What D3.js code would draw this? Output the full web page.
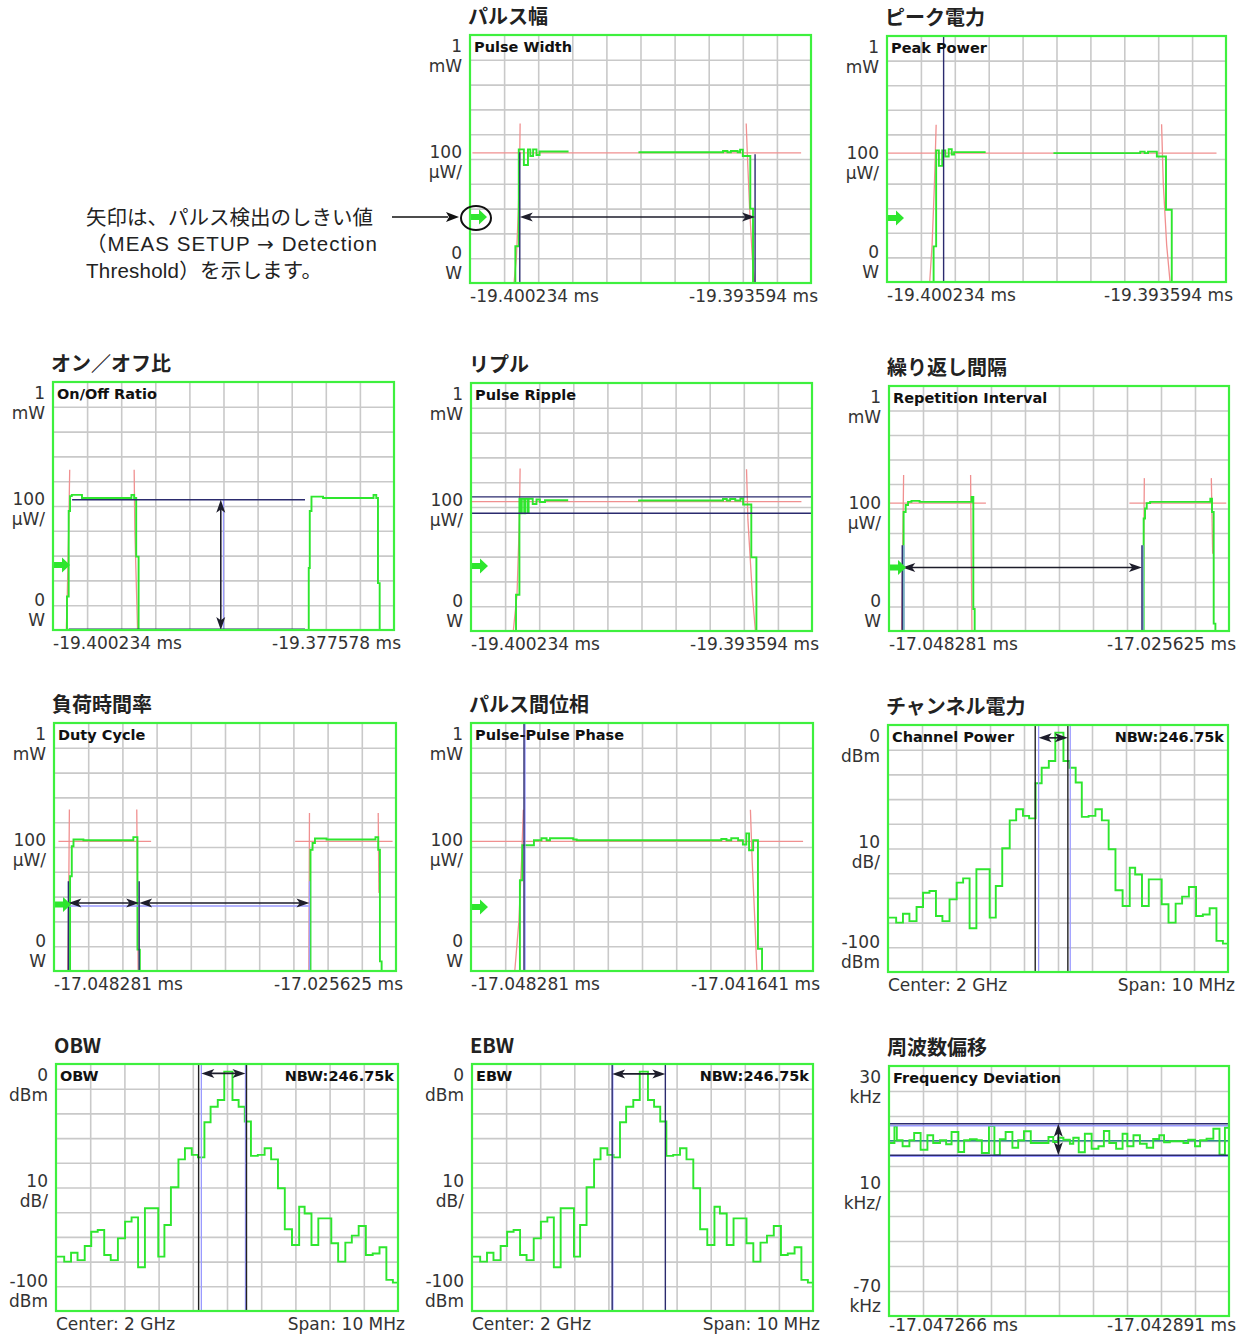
<!DOCTYPE html>
<html><head><meta charset="utf-8">
<script src="https://cdn.jsdelivr.net/npm/d3@7"></script>
<style>body{margin:0;background:#fff}svg{display:block}</style>
</head><body>
<svg id="c" width="1242" height="1336"></svg>
<script>
// ---------------- DATA ----------------
const panelTitles = ["パルス幅","ピーク電力","オン／オフ比","リプル","繰り返し間隔","負荷時間率","パルス間位相","チャンネル電力","OBW","EBW","周波数偏移"];
const panelLabels = ["Pulse Width","Peak Power","On/Off Ratio","Pulse Ripple","Repetition Interval","Duty Cycle","Pulse-Pulse Phase","Channel Power","OBW","EBW","Frequency Deviation"];
const xStartLabels = ["-19.400234 ms","-19.400234 ms","-19.400234 ms","-19.400234 ms","-17.048281 ms","-17.048281 ms","-17.048281 ms","Center: 2 GHz","Center: 2 GHz","Center: 2 GHz","-17.047266 ms"];
const xEndLabels = ["-19.393594 ms","-19.393594 ms","-19.377578 ms","-19.393594 ms","-17.025625 ms","-17.025625 ms","-17.041641 ms","Span: 10 MHz","Span: 10 MHz","Span: 10 MHz","-17.042891 ms"];
const powerTicks = [["1","mW"],["100","μW/"],["0","W"]];
const spectrumTicks = [["0","dBm"],["10","dB/"],["-100","dBm"]];
const fmTicks = [["30","kHz"],["10","kHz/"],["-70","kHz"]];
const nbwLabel = "NBW:246.75k";
const noteLines = [["矢印は、パルス検出のしきい値"],["（MEAS SETUP ","→"," Detection"],["Threshold）を示します。"]];

// time traces: x in divisions (0-10), power in μW
const pwGreen = [[0,0],[1.33,148],[1.43,539],[1.58,476],[1.70,539],[1.77,512],[1.85,539],[1.95,516],[2.04,530],[2.89,530],[2.89,null],[4.94,527],[7.42,532],[7.55,527],[7.65,532],[7.85,527],[7.92,538],[8.0,512],[8.22,300],[8.30,0],[10,0]];
const pwRed = [[[0.07,525],[9.71,525]],[[1.47,643],[1.46,530],[1.42,300],[1.36,100],[1.29,0]],[[8.10,643],[8.13,530],[8.20,300],[8.28,100],[8.35,0]]];
const pwMarkers = [[[1.46,0],[1.46,527]],[[8.36,0],[8.36,519]],[[1.46,0],[8.36,0]]];
const pwArrows = [[[1.46,266],[8.36,266]]];
const pwThreshold = 266;

const pkGreen = [[0,0],[1.375,145],[1.45,535],[1.53,472],[1.63,535],[1.72,510],[1.82,540],[1.91,518],[1.98,528],[2.91,528],[2.91,null],[4.91,524],[7.47,530],[7.6,524],[7.7,530],[7.96,510],[8.23,294],[8.40,0],[10,0]];
const pkRed = [[[0,524],[9.72,524]],[[1.45,639],[1.40,400],[1.33,150],[1.26,0]],[[8.10,641],[8.15,400],[8.25,150],[8.35,0]]];
const pkMarkers = [[[1.67,0],[1.67,1000]],[[1.67,0],[8.40,0]]];
const pkThreshold = 260;

const ooGreen = [[0,0],[0.41,135],[0.46,480],[0.50,540],[0.55,545],[0.85,532],[2.25,532],[2.30,545],[2.38,532],[2.44,296],[2.51,0],[7.48,0],[7.50,250],[7.53,480],[7.58,538],[7.92,532],[9.35,532],[9.40,545],[9.48,532],[9.53,189],[9.58,0],[10,0]];
const ooRed = [[[0.49,646],[0.46,400],[0.42,150],[0.39,0]],[[2.38,646],[2.40,400],[2.45,150],[2.48,0]]];
const ooMarkers = [[[0.56,525],[7.39,525]],[[0.46,3],[7.39,3]]];
const ooLight = [[[5.0,525],[5.0,0]]];
const ooArrows = [[[4.92,525],[4.92,0]]];
const ooThreshold = 262;

const rpGreen = [[0,0],[1.32,146],[1.42,533],[1.46,475],[1.49,533],[1.56,475],[1.59,533],[1.66,478],[1.69,533],[1.81,512],[1.92,530],[2.02,520],[2.17,527],[2.85,527],[2.85,null],[4.90,526],[7.39,532],[7.5,526],[7.6,532],[7.75,526],[7.9,534],[7.98,510],[8.22,297],[8.37,0],[10,0]];
const rpRed = [[[0,522],[9.69,522]],[[1.44,655],[1.42,450],[1.35,150],[1.24,0]],[[8.08,652],[8.12,450],[8.25,150],[8.34,0]]];
const rpMarkers = [[[0,541],[10,541]],[[0,475],[10,475]],[[1.30,0],[8.37,0]]];
const rpThreshold = 262;

const riGreen = [[0,0],[0.43,486],[0.49,514],[0.56,527],[0.66,531],[0.90,527],[2.38,527],[2.43,547],[2.48,90],[2.52,0],[7.48,0],[7.49,459],[7.53,500],[7.58,522],[7.68,527],[7.93,527],[9.45,540],[9.50,486],[9.55,30],[9.60,0],[10,0]];
const riRed = [[[0.02,522],[2.85,522]],[[7.07,522],[9.92,522]],[[0.43,637],[0.40,300],[0.37,0]],[[2.40,637],[2.42,300],[2.44,0]],[[7.51,624],[7.49,300],[7.47,0]],[[9.48,624],[9.52,315]]];
const riMarkers = [[[0.39,350],[0.39,0]],[[7.44,350],[7.44,0]],[[0.39,0],[7.44,0]]];
const riLight = [[[0.44,0],[0.44,350]],[[7.47,0],[7.47,350]]];
const riArrows = [[[0.39,259],[7.44,259]]];
const riThreshold = 259;

const dcGreen = [[0,0],[0.47,382],[0.52,503],[0.57,530],[0.86,527],[2.32,540],[2.44,86],[2.51,0],[7.47,0],[7.50,489],[7.56,516],[7.63,534],[7.97,530],[9.40,540],[9.48,489],[9.53,39],[9.58,0],[10,0]];
const dcRed = [[[0.13,523],[2.84,523]],[[7.05,523],[9.90,523]],[[0.45,651],[0.43,300],[0.40,0]],[[2.42,651],[2.44,300],[2.46,0]],[[7.47,637],[7.46,300],[7.45,0]],[[9.48,637],[9.50,315]]];
const dcMarkers = [[[0.42,362],[0.42,0]],[[2.49,362],[2.49,0]],[[0.42,0],[7.47,0]]];
const dcLight = [[[7.47,362],[7.47,0]],[[0.45,262],[7.45,262]]];
const dcArrows = [[[0.42,274],[2.49,274]],[[2.49,274],[7.47,274]]];
const dcThreshold = 268;

const ppGreen = [[0,0],[1.43,366],[1.50,507],[1.84,527],[2.06,535],[2.21,527],[2.31,535],[2.99,530],[3.09,527],[7.32,532],[7.47,527],[7.61,535],[7.81,527],[7.95,510],[8.05,555],[8.13,487],[8.25,527],[8.39,90],[8.51,0],[10,0]];
const ppRed = [[[0,523],[9.71,523]],[[1.53,650],[1.48,450],[1.40,200],[1.28,0]],[[8.17,650],[8.22,450],[8.30,200],[8.36,0]]];
const ppMarkers = [[[1.55,0],[1.55,1000]],[[1.55,0],[8.51,0]]];
const ppLight = [[[1.58,0],[1.58,1000]]];
const ppThreshold = 258;

// spectrum: bin start frequencies (MHz from center) and levels (dBm)
const specEdges = [-5,-4.76,-4.56,-4.37,-4.16,-3.97,-3.78,-3.59,-3.40,-3.19,-2.98,-2.79,-2.60,-2.40,-2.01,-1.83,-1.64,-1.42,-1.23,-1.03,-0.85,-0.66,-0.48,-0.27,-0.08,0.16,0.34,0.52,0.70,0.90,1.10,1.29,1.49,1.69,1.90,2.11,2.27,2.47,2.67,3.05,3.25,3.46,3.65,3.85,4.06,4.26,4.46,4.66,4.85];
const specLevels = [-78.0,-80.0,-76.4,-79.4,-73.7,-67.9,-67.2,-77.3,-79.4,-70.6,-63.8,-62.1,-82.3,-58.4,-78.0,-65.2,-49.9,-38.6,-34.1,-36.8,-37.8,-23.6,-17.3,-14.6,-3.1,-14.6,-17.3,-23.3,-37.2,-36.8,-34.1,-38.6,-50.3,-66.9,-73.3,-57.8,-60.5,-73.3,-62.5,-72.6,-80.0,-72.3,-69.5,-65.6,-77.3,-76.7,-74.2,-87.4,-88.5];
const cpMarkers = [[[-0.67,-100],[-0.67,0]],[[0.29,-100],[0.29,0]]];
const cpLight = [[[-0.57,-100],[-0.57,0]],[[0.36,-100],[0.36,0]]];
const cpArrows = [[[-0.57,-5.2],[0.29,-5.2]]];
const obwMarkers = [[[-0.83,-100],[-0.83,0]],[[0.57,-100],[0.57,0]]];
const obwLight = [[[-0.75,-100],[-0.75,0]],[[0.54,-100],[0.54,0]]];
const obwArrows = [[[-0.75,-3.8],[0.54,-3.8]]];
const ebwMarkers = [[[-0.89,-100],[-0.89,0]],[[0.67,-100],[0.67,0]]];
const ebwLight = [[[-0.87,-100],[-0.87,0]]];
const ebwArrows = [[[-0.89,-4],[0.67,-4]]];

// frequency deviation: x in divisions, kHz
const fdSteps = [[0,-0.8],[0.16,5.9],[0.23,0.3],[0.40,-2.1],[0.60,0.3],[0.74,3.2],[0.93,-3.5],[1.13,2.3],[1.30,-0.8],[1.50,0.3],[1.68,-1.3],[1.84,3.6],[2.04,-4.4],[2.21,0.3],[2.38,0.7],[2.58,0.3],[2.73,-4.8],[2.94,6.0],[3.10,-5.7],[3.26,0.7],[3.43,3.6],[3.63,-2.7],[3.80,0.3],[3.97,3.9],[4.17,-0.8],[4.69,1.6],[4.83,-0.4],[4.98,1.3],[5.13,0.5],[5.32,-1.1],[5.42,1.3],[5.58,-4.5],[5.76,2.9],[5.96,-3.1],[6.16,-2.1],[6.32,4.0],[6.48,-0.8],[6.68,-3.1],[6.87,2.9],[7.01,-2.1],[7.19,2.3],[7.38,-1.1],[7.58,-2.7],[7.77,0.8],[7.95,2.3],[8.09,-0.5],[8.26,-0.1],[8.46,-0.1],[8.66,-0.8],[8.80,0.5],[9.00,-2.1],[9.15,0.3],[9.34,0.9],[9.54,4.9],[9.72,-5.5],[9.88,5.3],[10,5.3]];
const fdMarkers = [[[0,6.9],[10,6.9]],[[0,-5.7],[10,-5.7]]];
const fdLight = [[[0,6.1],[10,6.1]],[[0,-6.1],[10,-6.1]]];
const fdCenter = [[[0,0.1],[10,0.1]]];
const fdArrows = [[[4.98,6.9],[4.98,-5.7]]];

// ---------------- LAYOUT ----------------
const boxes = [
  {L:470,T:35,W:341,H:248},{L:887,T:36,W:339,H:246},
  {L:53,T:382,W:341,H:248},{L:471,T:383,W:341,H:248},{L:889,T:386,W:340,H:245},
  {L:54,T:723,W:342,H:248},{L:471,T:723,W:342,H:248},{L:888,T:725,W:340,H:247},
  {L:56,T:1064,W:342,H:247},{L:472,T:1064,W:341,H:247},{L:889,T:1066,W:340,H:250}
];
const specSeries = specEdges.map((e,i)=>[e,specLevels[i]]).concat([[5,specLevels[specLevels.length-1]]]);
const P = [0,1000], S = [-100,0], F = [-70,30], D = [0,10], M = [-5,5];
const cfgs = [
  {xd:D,yd:P,ticks:powerTicks,green:pwGreen,red:pwRed,markers:pwMarkers,arrows:pwArrows,thr:pwThreshold},
  {xd:D,yd:P,ticks:powerTicks,green:pkGreen,red:pkRed,markers:pkMarkers,thr:pkThreshold},
  {xd:D,yd:P,ticks:powerTicks,green:ooGreen,red:ooRed,markers:ooMarkers,light:ooLight,arrows:ooArrows,thr:ooThreshold},
  {xd:D,yd:P,ticks:powerTicks,green:rpGreen,red:rpRed,markers:rpMarkers,thr:rpThreshold},
  {xd:D,yd:P,ticks:powerTicks,green:riGreen,red:riRed,markers:riMarkers,light:riLight,arrows:riArrows,thr:riThreshold},
  {xd:D,yd:P,ticks:powerTicks,green:dcGreen,red:dcRed,markers:dcMarkers,light:dcLight,arrows:dcArrows,thr:dcThreshold},
  {xd:D,yd:P,ticks:powerTicks,green:ppGreen,red:ppRed,markers:ppMarkers,light:ppLight,thr:ppThreshold},
  {xd:M,yd:S,ticks:spectrumTicks,green:specSeries,markers:cpMarkers,light:cpLight,arrows:cpArrows,nbw:true,black:true},
  {xd:M,yd:S,ticks:spectrumTicks,green:specSeries,markers:obwMarkers,light:obwLight,arrows:obwArrows,nbw:true,black:true},
  {xd:M,yd:S,ticks:spectrumTicks,green:specSeries,markers:ebwMarkers,light:ebwLight,arrows:ebwArrows,nbw:true},
  {xd:D,yd:F,ticks:fmTicks,green:fdSteps,markers:fdMarkers,light:fdLight,center:fdCenter,arrows:fdArrows,xlOff:15}
];

const C = {green:"#2ee62e",border:"#3ef03e",grid:"#c9c9c9",red:"#f09090",navy:"#2b2b6e",light:"#9a9aff",arrow:"#1d1d2b",text:"#333"};
const svg = d3.select("#c");
const TF = "'DejaVu Sans', sans-serif";
const JF = "'Noto Sans CJK JP', sans-serif";
const NF = "'Liberation Sans', 'Noto Sans CJK JP', sans-serif";

function dblArrow(g, x1, y1, x2, y2) {
  const dx = x2-x1, dy = y2-y1, len = Math.hypot(dx,dy), ux = dx/len, uy = dy/len;
  const hl = 13, hw = 4.5;
  g.append("line").attr("x1",x1+ux*5).attr("y1",y1+uy*5).attr("x2",x2-ux*5).attr("y2",y2-uy*5)
    .attr("stroke",C.arrow).attr("stroke-width",1.6);
  const head = (px,py,a,b) => {
    const bx = px - a*hl, by = py - b*hl, nx = px - a*hl*0.75, ny = py - b*hl*0.75;
    return `M${px},${py}L${bx - b*hw},${by + a*hw}L${nx},${ny}L${bx + b*hw},${by - a*hw}Z`;
  };
  g.append("path").attr("d", head(x2,y2,ux,uy) + head(x1,y1,-ux,-uy)).attr("fill",C.arrow);
}

cfgs.forEach((c, i) => {
  const b = boxes[i];
  const g = svg.append("g");
  const x = d3.scaleLinear().domain(c.xd).range([b.L, b.L + b.W]);
  const y = d3.scaleLinear().domain(c.yd).range([b.T + b.H, b.T]);
  const clipId = "clip" + i;
  svg.append("clipPath").attr("id", clipId).append("rect")
    .attr("x", b.L).attr("y", b.T).attr("width", b.W).attr("height", b.H);
  g.append("rect").attr("x",b.L).attr("y",b.T).attr("width",b.W).attr("height",b.H).attr("fill","#fff");
  const xv = d3.range(1,10).map(k => c.xd[0] + (c.xd[1]-c.xd[0])*k/10);
  const yv = d3.range(1,10).map(k => c.yd[0] + (c.yd[1]-c.yd[0])*k/10);
  const gx = g.append("g").attr("transform",`translate(0,${b.T+b.H})`)
    .call(d3.axisBottom(x).tickValues(xv).tickSize(-b.H).tickFormat(""));
  const gy = g.append("g").attr("transform",`translate(${b.L},0)`)
    .call(d3.axisLeft(y).tickValues(yv).tickSize(-b.W).tickFormat(""));
  [gx,gy].forEach(a => { a.select(".domain").remove(); a.selectAll("line").attr("stroke",C.grid).attr("stroke-width",1.6); });

  const pg = g.append("g").attr("clip-path",`url(#${clipId})`);
  const poly = d3.line().x(d => x(d[0])).y(d => y(d[1]));
  const step = d3.line().defined(d => d[1] != null).x(d => x(d[0])).y(d => y(d[1])).curve(d3.curveStepAfter);
  (c.red||[]).forEach(s => pg.append("path").attr("d",poly(s)).attr("fill","none").attr("stroke",C.red).attr("stroke-width",1.3));
  (c.center||[]).forEach(s => pg.append("path").attr("d",poly(s)).attr("fill","none").attr("stroke","#2f8a8a").attr("stroke-width",1.6));
  pg.append("path").attr("d",step(c.green)).attr("fill","none").attr("stroke",C.green).attr("stroke-width",1.9);
  (c.light||[]).forEach(s => pg.append("path").attr("d",poly(s)).attr("fill","none").attr("stroke",C.light).attr("stroke-width",1.3));
  (c.markers||[]).forEach(s => pg.append("path").attr("d",poly(s)).attr("fill","none")
    .attr("stroke", c.black ? "#222" : C.navy).attr("stroke-width",1.4));
  (c.arrows||[]).forEach(s => dblArrow(pg, x(s[0][0]), y(s[0][1]), x(s[1][0]), y(s[1][1])));
  if (c.thr != null) {
    const ty = y(c.thr), tx = b.L + 1;
    g.append("path").attr("d",`M${tx},${ty-3}h8v-4.5l8,7.5l-8,7.5v-4.5h-8Z`).attr("fill",C.green);
  }
  g.append("rect").attr("x",b.L).attr("y",b.T).attr("width",b.W).attr("height",b.H)
    .attr("fill","none").attr("stroke",C.border).attr("stroke-width",2.2);
  g.append("text").attr("x",b.L+4).attr("y",b.T+17).text(panelLabels[i])
    .attr("font-family",TF).attr("font-weight","bold").attr("font-size",14.5).attr("fill","#111");
  if (c.nbw) g.append("text").attr("x",b.L+b.W-4).attr("y",b.T+17).attr("text-anchor","end").text(nbwLabel)
    .attr("font-family",TF).attr("font-weight","bold").attr("font-size",14.5).attr("fill","#111");
  svg.append("text").attr("x",b.L-2).attr("y",b.T-11).text(panelTitles[i])
    .attr("font-family",JF).attr("font-weight","bold").attr("font-size",20).attr("fill","#222");
  const ys = [[b.T+17,b.T+37],[b.T+123,b.T+143],[b.T+b.H-24, b.T+b.H-4]];
  c.ticks.forEach((t,k) => {
    t.forEach((s,j) => svg.append("text").attr("x",b.L-8).attr("y",ys[k][j]).attr("text-anchor","end").text(s)
      .attr("font-family",TF).attr("font-size",17).attr("fill",C.text));
  });
  const xl = b.T + b.H + (c.xlOff || 19);
  svg.append("text").attr("x",b.L).attr("y",xl).text(xStartLabels[i])
    .attr("font-family",TF).attr("font-size",17).attr("fill",C.text);
  svg.append("text").attr("x",b.L+b.W+7).attr("y",xl).attr("text-anchor","end").text(xEndLabels[i])
    .attr("font-family",TF).attr("font-size",17).attr("fill",C.text);
});

// annotation
const ann = svg.append("g");
const noteWidths = [null, 291, 236];
noteLines.forEach((parts,k) => {
  const t = ann.append("text").attr("x",86).attr("y",[225,251,278][k])
    .attr("font-family",NF).attr("font-size",20.5).attr("fill","#222");
  if (noteWidths[k]) t.attr("textLength",noteWidths[k]).attr("lengthAdjust","spacing");
  parts.forEach(p => {
    const ts = t.append("tspan").text(p);
    if (p === "→") ts.attr("font-family","'DejaVu Sans', sans-serif").attr("font-size",20);
  });
});
ann.append("line").attr("x1",392).attr("y1",217).attr("x2",448).attr("y2",217).attr("stroke","#111").attr("stroke-width",1.4);
ann.append("path").attr("d","M459,217L446,212L449,217L446,222Z").attr("fill","#111");
ann.append("ellipse").attr("cx",476).attr("cy",218).attr("rx",15).attr("ry",12)
  .attr("fill","none").attr("stroke","#111").attr("stroke-width",2);
</script>
</body></html>
